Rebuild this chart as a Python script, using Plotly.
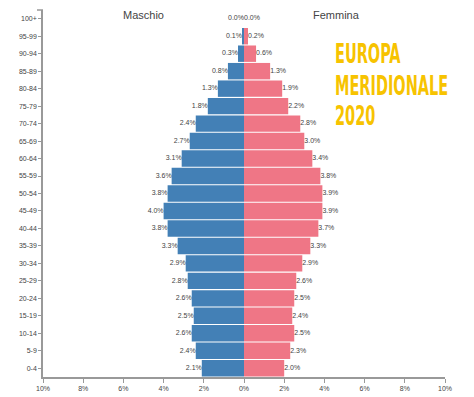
import plotly.graph_objects as go

age_groups = ["100+", "95-99", "90-94", "85-89", "80-84", "75-79", "70-74", "65-69",
              "60-64", "55-59", "50-54", "45-49", "40-44", "35-39", "30-34", "25-29",
              "20-24", "15-19", "10-14", "5-9", "0-4"]
male = [0.0, 0.1, 0.3, 0.8, 1.3, 1.8, 2.4, 2.7, 3.1, 3.6, 3.8, 4.0, 3.8, 3.3, 2.9, 2.8,
        2.6, 2.5, 2.6, 2.4, 2.1]
female = [0.0, 0.2, 0.6, 1.3, 1.9, 2.2, 2.8, 3.0, 3.4, 3.8, 3.9, 3.9, 3.7, 3.3, 2.9, 2.6,
          2.5, 2.4, 2.5, 2.3, 2.0]
tick_vals = [-10, -8, -6, -4, -2, 0, 2, 4, 6, 8, 10]
tick_text = ["10%", "8%", "6%", "4%", "2%", "0%", "2%", "4%", "6%", "8%", "10%"]
title_lines = ["EUROPA", "MERIDIONALE", "2020"]

cats = age_groups[::-1]
m = male[::-1]
f = female[::-1]

BLUE = "#4380B6"
PINK = "#EF7686"
FONT = "Liberation Sans, Arial, sans-serif"

W, H = 474, 397
ML, MR, MT, MB = 43, 29, 10, 20
pw, ph = W - ML - MR, H - MT - MB


def px(xp):
    return (xp - ML) / pw


def py(yp):
    return (H - MB - yp) / ph


fig = go.Figure()
fig.add_trace(go.Bar(y=cats, x=[-v for v in m], orientation="h", marker_color=BLUE,
                     marker_line_width=0, hoverinfo="skip", name="Maschio"))
fig.add_trace(go.Bar(y=cats, x=f, orientation="h", marker_color=PINK,
                     marker_line_width=0, hoverinfo="skip", name="Femmina"))
fig.add_trace(go.Scatter(y=cats, x=[-v for v in m], mode="text",
                         text=[f"{v:.1f}%" for v in m], textposition="middle left",
                         textfont=dict(size=7, color="#444", family=FONT), hoverinfo="skip"))
fig.add_trace(go.Scatter(y=cats, x=f, mode="text",
                         text=[f"{v:.1f}%" for v in f], textposition="middle right",
                         textfont=dict(size=7, color="#444", family=FONT), hoverinfo="skip"))

anns = [
    dict(text="Maschio", x=-5, y=py(15), xref="x", yref="paper", yanchor="middle",
         showarrow=False, font=dict(size=11, color="#444", family=FONT)),
    dict(text="Femmina", x=4.6, y=py(15), xref="x", yref="paper", yanchor="middle",
         showarrow=False, font=dict(size=11, color="#444", family=FONT)),
]
for t, yy in zip(title_lines, [54, 86, 116]):
    anns.append(dict(text=f"<b>{t}</b>", x=px(333), y=py(yy), xref="paper", yref="paper",
                     xanchor="left", yanchor="middle", showarrow=False,
                     font=dict(size=26, color="#F7C300", family="DejaVu Sans Condensed")))

fig.update_layout(
    width=W, height=H,
    margin=dict(l=ML, r=MR, t=MT, b=MB),
    paper_bgcolor="white", plot_bgcolor="white",
    barmode="overlay", bargap=0.06,
    showlegend=False,
    font=dict(family=FONT, color="#444"),
    xaxis=dict(range=[-10, 10], tickvals=tick_vals, ticktext=tick_text, automargin=False,
               showgrid=False, zeroline=False, showline=True, linecolor="#999", linewidth=1.5,
               ticks="outside", ticklen=4, tickcolor="#999", tickfont=dict(size=7, color="#444")),
    yaxis=dict(categoryorder="array", categoryarray=cats, range=[-0.5, 20.5], automargin=False,
               showgrid=False, zeroline=False, showline=True, linecolor="#999", linewidth=1.5,
               ticks="outside", ticklen=3, tickcolor="#999", tickfont=dict(size=7, color="#444")),
    annotations=anns,
    shapes=[dict(type="line", xref="paper", yref="paper", x0=px(37), x1=px(43),
                 y0=1, y1=1, line=dict(color="#999", width=1.5))],
)

post = """
document.body.style.margin = '0';
document.body.style.padding = '0';
var gd = document.getElementsByClassName('plotly-graph-div')[0];
function squeeze(){
  var els = gd.querySelectorAll('.annotation-text');
  els.forEach(function(el){
    var t = el.textContent;
    if (t === 'EUROPA' || t === 'MERIDIONALE' || t === '2020') {
      el.style.transformBox = 'fill-box';
      el.style.transformOrigin = 'left center';
      el.style.transform = 'scaleX(0.62)';
    }
  });
}
squeeze();
gd.on('plotly_afterplot', squeeze);
"""
fig.write_html("out.html", post_script=post, config={"displayModeBar": False})
